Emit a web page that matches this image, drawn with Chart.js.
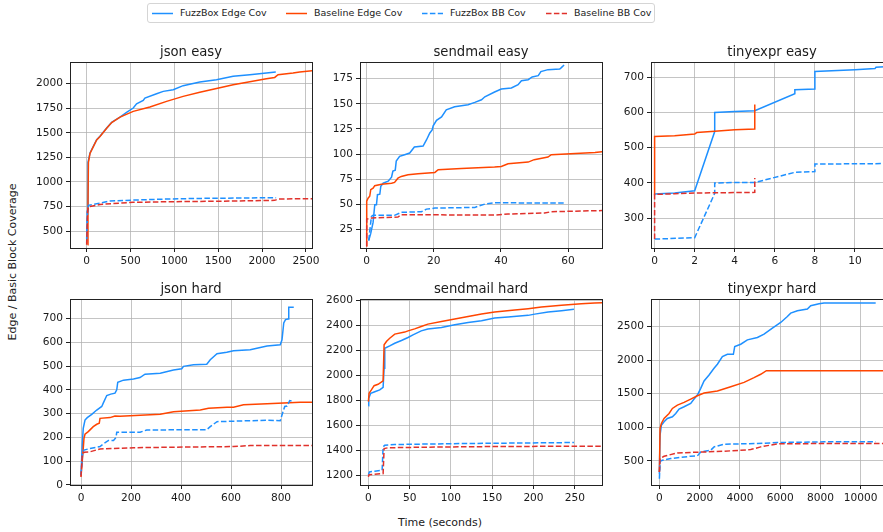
<!DOCTYPE html>
<html>
<head>
<meta charset="utf-8">
<script src="https://cdn.jsdelivr.net/npm/chart.js@4"></script>
<style>
  body { margin: 0; width: 883px; height: 532px; overflow: hidden; background: #fff; position: relative; font-family: "DejaVu Sans", sans-serif; color: #222; }
  canvas { position: absolute; }
  #legend { position: absolute; left: 147px; top: 3px; width: 506px; height: 18px; border: 1px solid #d5d5d5; border-radius: 3px; font-size: 9.5px; }
  #legend .item { position: absolute; top: 3px; white-space: nowrap; line-height: 12px; }
  #legend svg { position: absolute; left: 0; top: 5px; }
  #legend span { position: absolute; left: 28px; top: 0; }
  #ylabel { position: absolute; left: 12px; top: 262px; font-size: 11px; white-space: nowrap; transform: translate(-50%, -50%) rotate(-90deg); }
  #xlabel { position: absolute; left: 440px; top: 522px; font-size: 11px; white-space: nowrap; transform: translate(-50%, -50%); }
</style>
</head>
<body>
<div id="legend"></div>
<div id="ylabel">Edge / Basic Block Coverage</div>
<div id="xlabel">Time (seconds)</div>
<canvas id="c0" width="322" height="241" style="left:10px;top:32px"></canvas>
<canvas id="c1" width="322" height="241" style="left:300px;top:32px"></canvas>
<canvas id="c2" width="322" height="241" style="left:591px;top:32px"></canvas>
<canvas id="c3" width="322" height="241" style="left:10px;top:269px"></canvas>
<canvas id="c4" width="322" height="241" style="left:300px;top:269px"></canvas>
<canvas id="c5" width="322" height="241" style="left:591px;top:269px"></canvas>
<script>
// series names and styles
const seriesNames = ['FuzzBox Edge Cov', 'Baseline Edge Cov', 'FuzzBox BB Cov', 'Baseline BB Cov'];
const seriesColors = ['#1e90ff', '#ff4500', '#1e90ff', '#e0312b'];
const seriesDashed = [false, false, true, true];
const panelTitles = ['json easy', 'sendmail easy', 'tinyexpr easy', 'json hard', 'sendmail hard', 'tinyexpr hard'];

// json easy: [seconds, coverage]
const jsonEasyFuzzEdge = [[0, 380], [8, 700], [15, 1200], [38, 1294], [76, 1362], [114, 1430], [152, 1464], [228, 1549], [285, 1606], [380, 1660], [455, 1708], [531, 1752], [569, 1796], [645, 1830], [664, 1854], [797, 1898], [873, 1922], [987, 1939], [1100, 1980], [1290, 2017], [1480, 2041], [1670, 2075], [1860, 2092], [2049, 2109], [2156, 2119]];
const jsonEasyBaseEdge = [[10, 360], [15, 800], [20, 1200], [38, 1290], [76, 1360], [114, 1428], [152, 1462], [228, 1547], [285, 1604], [380, 1660], [531, 1718], [721, 1762], [911, 1820], [1100, 1871], [1290, 1912], [1480, 1952], [1670, 1990], [1860, 2020], [2049, 2051], [2144, 2064], [2182, 2092], [2353, 2109], [2429, 2119], [2700, 2145]];
const jsonEasyFuzzBB = [[0, 420], [10, 700], [19, 761], [152, 785], [266, 805], [531, 815], [911, 826], [1290, 832], [2125, 839], [2160, 838]];
const jsonEasyBaseBB = [[0, 360], [10, 700], [20, 745], [152, 771], [531, 792], [911, 798], [1670, 805], [2144, 812], [2180, 825], [2429, 829], [2700, 830]];

// sendmail easy
const sendmailEasyFuzzEdge = [[0.6, 14], [1.2, 21], [1.9, 32], [2.4, 49.5], [2.9, 49.5], [3.2, 59.5], [3.9, 60], [4.2, 68], [4.9, 71], [6.4, 73], [7.4, 77], [7.8, 83], [8.5, 84], [8.8, 93], [9.8, 97.7], [11.3, 99.3], [12.8, 101], [14.2, 107], [16.8, 108], [17.8, 114], [18.8, 121], [19.5, 124], [19.8, 128], [20.8, 133.5], [22.3, 137], [23.7, 144], [26.2, 147], [30.2, 149], [32.2, 151.4], [34.2, 154], [35.2, 157], [38.1, 161.7], [40.1, 164.7], [43.1, 165.7], [45.1, 169], [46.1, 173], [48.1, 174], [49.3, 176.7], [51.1, 178], [51.9, 182], [54, 184], [57.5, 184.6], [58, 186], [58.8, 188.6]];
const sendmailEasyBaseEdge = [[0, 8], [0, 53], [0.4, 56], [0.9, 58], [1.2, 64.5], [1.9, 66], [2.4, 68.5], [4.4, 70], [7.4, 71], [8.3, 71.8], [9.3, 76], [10.3, 77.7], [12.3, 79.4], [15.3, 80.4], [20.3, 81.7], [21.3, 84.4], [28.2, 85.7], [38.1, 87], [40.1, 87.7], [42.1, 90.4], [48.1, 92], [49.9, 94.4], [54, 97], [55, 99.3], [68, 101.6], [72, 103]];
const sendmailEasyFuzzBB = [[0.6, 14], [1.4, 38], [1.9, 39], [8.3, 39], [10.3, 42], [16.3, 42.6], [17.8, 45.2], [20.3, 46.2], [32.2, 46.9], [35.2, 50.2], [38.1, 51.5], [59, 51.2]];
const sendmailEasyBaseBB = [[0, 8], [0, 35.3], [1.4, 36.3], [9.3, 37.3], [10.3, 39.6], [38.1, 39.3], [42.1, 40.3], [53, 41.3], [55, 42.6], [68, 43.6], [72, 43.8]];

// tinyexpr easy
const tinyexprEasyFuzzEdge = [[0, 368], [1, 371], [2, 377.7], [3, 546], [3, 600.5], [4, 603], [5, 605], [7, 653.5], [7, 665], [8, 667], [8, 717], [10, 722], [11, 725], [11.05, 729], [12, 732]];
const tinyexprEasyBaseEdge = [[0, 365], [0, 532], [1, 534], [2, 539], [2.1, 543], [3, 546.6], [4, 551], [5, 553], [5, 623]];
const tinyexprEasyFuzzBB = [[0, 240], [2, 244], [3, 370], [3, 399.5], [4, 401], [5, 401], [7, 430], [8, 432], [8, 453.5], [12, 455]];
const tinyexprEasyBaseBB = [[0, 240], [0, 367], [1, 369], [2, 371], [5, 373], [5, 414]];

// json hard
const jsonHardFuzzEdge = [[0, 41], [5, 168], [9, 238], [16, 273], [25, 283], [43, 297], [63, 315], [83, 330], [89, 344], [103, 376], [119, 382], [136, 386], [143, 400], [147, 432], [170, 441], [210, 446], [236, 452], [256, 466], [317, 470], [370, 484], [403, 489], [410, 499], [450, 506], [503, 508], [517, 527], [544, 552], [583, 559], [610, 565], [677, 569], [717, 579], [744, 585], [797, 590], [804, 611], [811, 682], [818, 696], [828, 699], [831, 748], [851, 748]];
const jsonHardBaseEdge = [[0, 34], [7, 125], [12, 196], [16, 213], [29, 224], [49, 245], [63, 255], [73, 259], [76, 280], [116, 283], [136, 290], [156, 289], [317, 297], [370, 308], [477, 315], [510, 322], [584, 327], [610, 327], [650, 337], [744, 341], [811, 345], [877, 348], [930, 348]];
const jsonHardFuzzBB = [[0, 41], [7, 139], [12, 146], [36, 153], [76, 161], [89, 172], [110, 187], [130, 187], [140, 199], [143, 221], [236, 221], [263, 231], [503, 232], [517, 245], [544, 266], [744, 272], [797, 270], [808, 308], [815, 330], [824, 332], [835, 355], [851, 351]];
const jsonHardBaseBB = [[0, 34], [5, 125], [12, 137], [36, 139], [76, 151], [210, 156], [410, 159], [610, 161], [677, 165], [877, 165], [930, 165]];

// sendmail hard
const sendmailHardFuzzEdge = [[0, 1757], [0.4, 1816], [2.8, 1856], [7.7, 1869], [13.7, 1883], [17.8, 1904], [19, 2057], [19.8, 2217], [25.8, 2236], [31.9, 2257], [40, 2279], [48, 2303], [54, 2324], [64, 2356], [72, 2370], [88.5, 2383], [104.6, 2405], [120.8, 2423], [137, 2437], [153, 2458], [169.2, 2466], [193.5, 2480], [201.5, 2490], [217.7, 2506], [233.9, 2517], [249, 2528]];
const sendmailHardBaseEdge = [[0, 1789], [0.8, 1856], [3.6, 1883], [6.9, 1917], [11.7, 1928], [17.8, 1955], [19, 2244], [21.8, 2271], [25.8, 2297], [31.9, 2330], [44, 2346], [48, 2356], [56, 2372], [64, 2391], [72, 2410], [88.5, 2431], [104.6, 2450], [120.8, 2471], [137, 2490], [153, 2506], [177.3, 2522], [193.5, 2533], [209.6, 2546], [233.9, 2560], [258, 2573], [274, 2579], [290, 2582]];
const sendmailHardFuzzBB = [[0, 1205], [1.2, 1227], [7.7, 1232], [16.6, 1240], [17.8, 1427], [19.8, 1441], [31.9, 1446], [112.7, 1454], [249, 1462]];
const sendmailHardBaseBB = [[0, 1187], [0.8, 1205], [7.7, 1208], [17.8, 1213], [19, 1414], [23.8, 1420], [72, 1425], [153, 1430], [274, 1433], [290, 1433]];

// tinyexpr hard
const tinyexprHardFuzzEdge = [[0, 311], [33, 883], [99, 1032], [232, 1082], [397, 1132], [646, 1157], [811, 1206], [977, 1271], [1225, 1306], [1556, 1356], [1722, 1420], [1887, 1480], [2053, 1580], [2219, 1689], [2467, 1779], [2715, 1878], [2881, 1938], [3129, 2052], [3377, 2087], [3675, 2087], [3742, 2201], [4040, 2236], [4371, 2301], [4868, 2336], [5199, 2386], [5613, 2475], [6026, 2560], [6358, 2649], [6523, 2699], [6854, 2734], [7351, 2759], [7517, 2808], [7930, 2838], [8179, 2848], [10745, 2848]];
const tinyexprHardBaseEdge = [[0, 336], [33, 983], [99, 1057], [232, 1132], [480, 1206], [646, 1281], [894, 1331], [1225, 1371], [1556, 1420], [1887, 1470], [2219, 1510], [2881, 1540], [3543, 1604], [4205, 1669], [4702, 1739], [5033, 1789], [5315, 1843], [11800, 1843]];
const tinyexprHardFuzzBB = [[0, 236], [33, 495], [149, 510], [563, 535], [1556, 570], [1887, 575], [2053, 634], [2550, 659], [2715, 709], [3212, 749], [4868, 759], [5861, 774], [8179, 784], [10745, 784]];
const tinyexprHardBaseBB = [[0, 336], [33, 535], [232, 570], [894, 619], [3212, 644], [4536, 669], [5033, 709], [5861, 754], [8179, 759], [11800, 759]];

// axis ranges and ticks per panel
const xRanges = [[-190, 2569], [-2, 70.1], [-0.18, 11.9], [-44, 924], [-10.2, 283], [-417, 11605]];
const yRanges = [[327, 2221], [6.5, 191.6], [214.7, 743.8], [-1, 783], [1122, 2611], [142, 2909]];
const xTickValues = [[0, 500, 1000, 1500, 2000, 2500], [0, 20, 40, 60], [0, 2, 4, 6, 8, 10], [0, 200, 400, 600, 800], [0, 50, 100, 150, 200, 250], [0, 2000, 4000, 6000, 8000, 10000]];
const yTickValues = [[500, 750, 1000, 1250, 1500, 1750, 2000], [25, 50, 75, 100, 125, 150, 175], [300, 400, 500, 600, 700], [0, 100, 200, 300, 400, 500, 600, 700], [1200, 1400, 1600, 1800, 2000, 2200, 2400, 2600], [500, 1000, 1500, 2000, 2500]];

const panelSeries = [
  [jsonEasyFuzzEdge, jsonEasyBaseEdge, jsonEasyFuzzBB, jsonEasyBaseBB],
  [sendmailEasyFuzzEdge, sendmailEasyBaseEdge, sendmailEasyFuzzBB, sendmailEasyBaseBB],
  [tinyexprEasyFuzzEdge, tinyexprEasyBaseEdge, tinyexprEasyFuzzBB, tinyexprEasyBaseBB],
  [jsonHardFuzzEdge, jsonHardBaseEdge, jsonHardFuzzBB, jsonHardBaseBB],
  [sendmailHardFuzzEdge, sendmailHardBaseEdge, sendmailHardFuzzBB, sendmailHardBaseBB],
  [tinyexprHardFuzzEdge, tinyexprHardBaseEdge, tinyexprHardFuzzBB, tinyexprHardBaseBB]
];

const tickFont = { family: 'DejaVu Sans', size: 10.6 };
const titleSize = 13.2;
const titleGap = 1.5;
const gridColor = 'rgba(176,176,176,0.75)';
const spineColor = '#222';

// top and right spines, drawn over the lines like the axis borders
const frame = {
  id: 'frame',
  afterDatasetsDraw(chart) {
    const a = chart.chartArea, ctx = chart.ctx;
    ctx.save();
    ctx.strokeStyle = spineColor;
    ctx.lineWidth = 1;
    ctx.strokeRect(Math.round(a.left) + 0.5, Math.round(a.top) + 0.5, Math.round(a.right - a.left), Math.round(a.bottom - a.top));
    ctx.restore();
  }
};

function axis(range, ticks, isX) {
  return {
    type: 'linear',
    min: range[0],
    max: range[1],
    afterBuildTicks: s => { s.ticks = ticks.map(v => ({ value: v })); },
    afterFit: s => { if (isX) s.height = 25; else s.width = 60; },
    ticks: { font: tickFont, color: '#1a1a1a', autoSkip: false, maxRotation: 0, padding: 3, callback: v => String(v) },
    grid: { color: gridColor, lineWidth: 1, tickColor: spineColor, tickLength: 4 },
    border: { color: spineColor, width: 1 }
  };
}

panelSeries.forEach((series, p) => {
  new Chart(document.getElementById('c' + p), {
    type: 'line',
    data: {
      datasets: series.map((pts, i) => ({
        label: seriesNames[i],
        data: pts.map(([x, y]) => ({ x, y })),
        borderColor: seriesColors[i],
        borderWidth: 1.5,
        borderDash: seriesDashed[i] ? [5.5, 2.4] : [],
        pointRadius: 0,
        tension: 0,
        fill: false,
        order: 3 - i
      }))
    },
    options: {
      responsive: false,
      animation: false,
      events: [],
      layout: { padding: { top: 30 - titleSize * 1.2 - titleGap, right: 20, left: 0, bottom: 0 } },
      scales: {
        x: axis(xRanges[p], xTickValues[p], true),
        y: axis(yRanges[p], yTickValues[p], false)
      },
      plugins: {
        legend: { display: false },
        tooltip: { enabled: false },
        title: {
          display: true,
          text: panelTitles[p],
          fullSize: false,
          color: '#1a1a1a',
          font: { family: 'DejaVu Sans', size: titleSize, weight: 'normal', lineHeight: 1.2 },
          padding: { top: 0, bottom: titleGap }
        }
      }
    },
    plugins: [frame]
  });
});

// shared legend across the top
const legendX = [4, 138, 274, 398];
const legend = document.getElementById('legend');
seriesNames.forEach((name, i) => {
  const item = document.createElement('div');
  item.className = 'item';
  item.style.left = legendX[i] + 'px';
  item.innerHTML = '<svg width="22" height="3"><line x1="0" y1="1.5" x2="21" y2="1.5" stroke="' + seriesColors[i] +
    '" stroke-width="1.5"' + (seriesDashed[i] ? ' stroke-dasharray="5.5 2.4"' : '') + '/></svg><span>' + name + '</span>';
  legend.appendChild(item);
});
</script>
</body>
</html>
